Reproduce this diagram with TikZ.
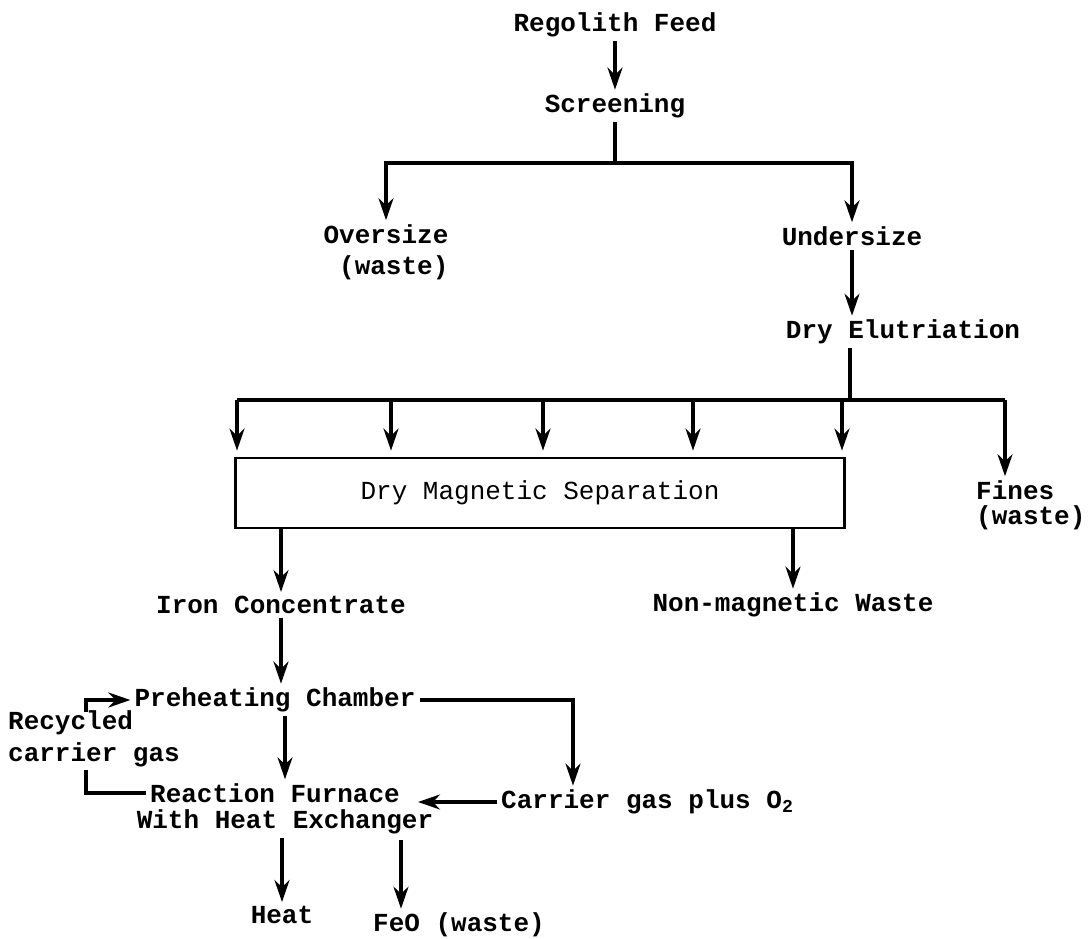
\documentclass[tikz,border=0pt]{standalone}
\usepackage{fontspec}
\setmainfont{Liberation Mono}
\usepackage{tikz}
\usetikzlibrary{arrows.meta,positioning}
\tikzstyle{arrow} = [line width=3.2pt,-{Stealth[length=22pt,width=15pt]}]
\tikzstyle{flowline} = [line width=3.2pt]
\tikzstyle{stage} = [inner sep=4pt, font=\bfseries\fontsize{26}{31}\selectfont]
\tikzstyle{procbox} = [rectangle, draw, line width=2.8pt, minimum width=609pt, minimum height=70pt, font=\fontsize{26}{31}\selectfont]

\begin{document}
\begin{tikzpicture}[x=1pt,y=-1pt]
\useasboundingbox (0,0) rectangle (1089,938);

% Screening
\node[stage] (feed) at (615,25) {Regolith Feed};
\node[stage] (screen) at (615,106) {Screening};
\node[stage, align=left] (over) at (386,252) {Oversize\\\ (waste)};
\node[stage] (under) at (852,236) {Undersize};
\node[stage] (elut) at (903,332) {Dry Elutriation};
\coordinate (split1) at (615,163);

\draw[arrow] (feed) -- (screen);
\draw[flowline] (screen) -- (split1);
\draw[arrow] (split1) -| (over);
\draw[arrow] (split1) -| (under);
\draw[arrow] (under) -- (under |- elut.north);

% Magnetic separation
\node[procbox] (magsep) at (540,493) {Dry Magnetic Separation};
\node[stage, anchor=west, align=left, font=\bfseries\fontsize{26}{25}\selectfont] (fines) at (972,505) {Fines\\(waste)};
\coordinate (split2) at (850,400);
\coordinate (b1) at (237,400);
\coordinate (b2) at (391,400);
\coordinate (b3) at (543,400);
\coordinate (b4) at (693,400);
\coordinate (b5) at (842,400);
\coordinate (b6) at (1005,400);

\draw[flowline] (split2 |- elut.south) -- (split2);
\draw[flowline] (b1) -- (b6);
\draw[arrow, shorten >=6pt] (b1) -- (b1 |- magsep.north);
\draw[arrow, shorten >=6pt] (b2) -- (b2 |- magsep.north);
\draw[arrow, shorten >=6pt] (b3) -- (b3 |- magsep.north);
\draw[arrow, shorten >=6pt] (b4) -- (b4 |- magsep.north);
\draw[arrow, shorten >=6pt] (b5) -- (b5 |- magsep.north);
\draw[arrow] (b6) -- (b6 |- fines.north);

\node[stage] (iron) at (281,605) {Iron Concentrate};
\node[stage] (nonmag) at (793,605) {Non-magnetic Waste};
\draw[arrow] (magsep.south -| iron) -- (iron);
\draw[arrow] (magsep.south -| nonmag) -- (nonmag);

% Preheating and reaction
\node[stage] (preheat) at (275,700) {Preheating Chamber};
\node[stage, anchor=west, align=left, font=\bfseries\fontsize{26}{32}\selectfont] (recyc) at (4,739) {Recycled\\carrier gas};
\node[stage] (furnace) at (275,793) {Reaction Furnace};
\node[stage] (exchanger) at (285,822) {With Heat Exchanger};
\node[stage, anchor=west] (carrier) at (497,802) {Carrier gas plus O\textsubscript{2}};
\node[stage] (heat) at (282,915) {Heat};
\node[stage] (feo) at (459,925) {FeO (waste)};
\coordinate (turn) at (573,700);
\coordinate (rt) at (86,712);
\coordinate (rb) at (86,770);
\coordinate (feoin) at (401,840);

\draw[arrow] (iron) -- (iron |- preheat.north);
\draw[arrow] (preheat.south -| exchanger) -- (exchanger |- furnace.north);
\draw[arrow] (preheat.east) -- (preheat.east -| turn) -- (turn |- carrier.north);
\draw[arrow, shorten >=14pt] (carrier.west) -- (carrier.west -| furnace.east);
\draw[arrow] (rt) |- (preheat.west);
\draw[flowline] (rb) |- (furnace.west);
\draw[arrow] (exchanger.south -| heat) -- (heat);
\draw[arrow] (feoin) -- (feoin |- feo.north);
\end{tikzpicture}
\end{document}
